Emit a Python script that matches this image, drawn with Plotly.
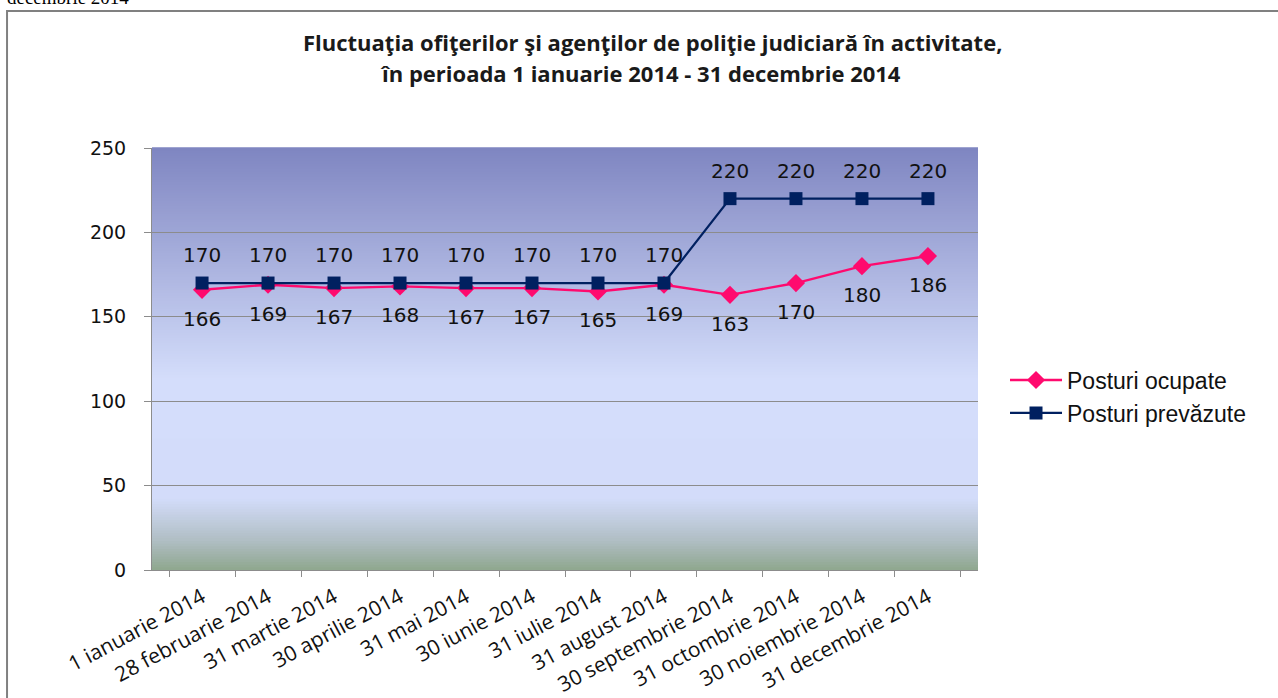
import plotly.graph_objects as go

# date din grafic
luni = ['1 ianuarie 2014', '28 februarie 2014', '31 martie 2014', '30 aprilie 2014',
        '31 mai 2014', '30 iunie 2014', '31 iulie 2014', '31 august 2014',
        '30 septembrie 2014', '31 octombrie 2014', '30 noiembrie 2014', '31 decembrie 2014']
posturi_ocupate = [166, 169, 167, 168, 167, 167, 165, 169, 163, 170, 180, 186]
posturi_prevazute = [170, 170, 170, 170, 170, 170, 170, 170, 220, 220, 220, 220]
y_ticks = [0, 50, 100, 150, 200, 250]

PINK = '#ff0a6e'
NAVY = '#002060'

fig = go.Figure()

fig.add_trace(go.Scatter(
    x=luni, y=posturi_ocupate, name='Posturi ocupate', mode='lines+markers',
    line=dict(color=PINK, width=2.4),
    marker=dict(symbol='diamond', size=14, color=PINK),
))
fig.add_trace(go.Scatter(
    x=luni, y=posturi_prevazute, name='Posturi prevăzute', mode='lines+markers',
    line=dict(color=NAVY, width=2.2),
    marker=dict(symbol='square', size=13, color=NAVY),
))

# etichete de valori (Excel le pune mai departe de punct)
lbl_font = dict(family='DejaVu Sans', size=20, color='#111')
for xv, yv in zip(luni, posturi_prevazute):
    fig.add_annotation(x=xv, y=yv, text=str(yv), showarrow=False, yshift=28, font=lbl_font)
for xv, yv in zip(luni, posturi_ocupate):
    fig.add_annotation(x=xv, y=yv, text=str(yv), showarrow=False, yshift=-29, font=lbl_font)

# fundal in degrade (benzi subtiri sub grila)
stops = [(0.0, (142, 167, 142)), (0.07, (176, 190, 196)), (0.17, (211, 220, 250)),
         (0.45, (212, 221, 251)), (1.0, (127, 134, 193))]


def col_at(f):
    for (a, ca), (b, cb) in zip(stops[:-1], stops[1:]):
        if a <= f <= b:
            t = (f - a) / (b - a)
            return 'rgb(%d,%d,%d)' % tuple(round(ca[i] + (cb[i] - ca[i]) * t) for i in range(3))
    return 'rgb(%d,%d,%d)' % stops[-1][1]


n = 160
for i in range(n):
    f0, f1 = i / n, (i + 1) / n
    fig.add_shape(type='rect', xref='x domain', yref='y domain', x0=0, x1=1,
                  y0=f0, y1=f1 + 0.002, fillcolor=col_at((f0 + f1) / 2),
                  line=dict(width=0), layer='below')

# chenarul diagramei (doar stanga si sus sunt vizibile)
fig.add_shape(type='rect', xref='paper', yref='paper', x0=-0.1755, x1=1.6, y0=-0.6, y1=1.3246,
              line=dict(color='#808080', width=2), fillcolor='rgba(0,0,0,0)', layer='below')

# titlu, doua randuri
title_font = dict(family='Open Sans', size=22, color='#1a1a1a')
fig.add_annotation(xref='paper', yref='paper', x=0.6065, y=1.2512, yanchor='middle',
                   text='<b>Fluctuaţia ofiţerilor şi agenţilor de poliţie judiciară în activitate,</b>',
                   showarrow=False, font=title_font)
fig.add_annotation(xref='paper', yref='paper', x=0.592, y=1.1777, yanchor='middle',
                   text='<b>în perioada 1 ianuarie 2014 - 31 decembrie 2014</b>',
                   showarrow=False, font=title_font)

# text taiat sus-stanga
fig.add_annotation(xref='paper', yref='paper', x=-0.178, y=1.3555, xanchor='left', yanchor='middle',
                   text='decembrie 2014', showarrow=False,
                   font=dict(family='Liberation Serif', size=19, color='#000'))

fig.update_layout(
    width=1278, height=698,
    margin=dict(l=152, r=300, t=148, b=128),
    paper_bgcolor='white', plot_bgcolor='rgba(0,0,0,0)',
    showlegend=True,
    legend=dict(x=1.0327, y=0.411, xanchor='left', yanchor='middle', itemwidth=52,
                font=dict(family='Liberation Sans', size=23, color='#111'),
                bgcolor='rgba(0,0,0,0)', tracegroupgap=0),
    xaxis=dict(type='category', tickangle=-28, tickson='boundaries', ticks='outside',
               ticklen=6, tickcolor='#8c8c8c', showgrid=False, showline=True,
               linecolor='#8c8c8c', linewidth=1, automargin=False, ticklabelstandoff=6,
               tickfont=dict(family='Open Sans', size=21, color='#111')),
    yaxis=dict(range=[0, 250], tickvals=y_ticks, ticks='outside', ticklen=7,
               tickcolor='#8c8c8c', showgrid=True, gridcolor='#8c8c8c', gridwidth=1,
               showline=True, linecolor='#8c8c8c', linewidth=1, zeroline=False,
               automargin=False, ticklabelstandoff=14,
               tickfont=dict(family='DejaVu Sans', size=19, color='#111')),
)

fig.write_html('out.html', config={'displayModeBar': False},
               post_script="document.body.style.margin='0';")
